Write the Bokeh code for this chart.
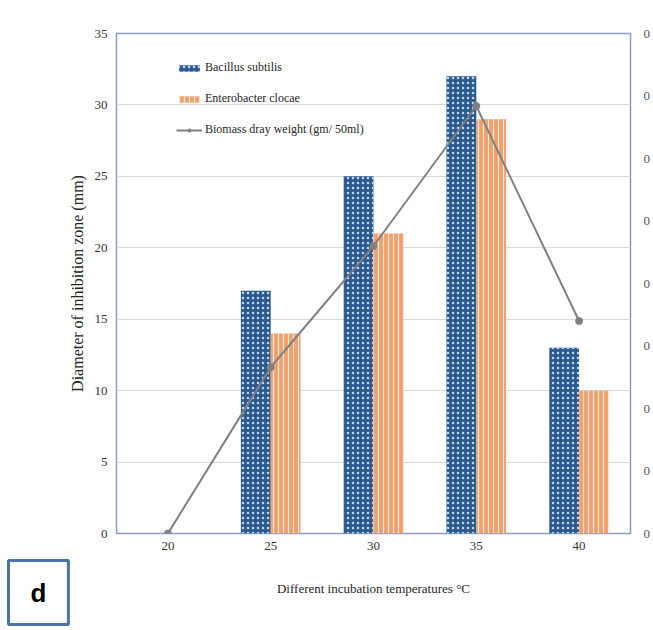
from bokeh.plotting import figure
from bokeh.models import (FactorRange, Range1d, LinearAxis, FixedTicker, Legend,
                          LegendItem, Title, ColumnDataSource)
from bokeh.transform import dodge
from bokeh.embed import file_html
from bokeh.resources import INLINE

# ---- data ----
temps = ["20", "25", "30", "35", "40"]
bacillus = [0, 17, 25, 32, 13]
enterobacter = [0, 14, 21, 29, 10]
biomass = [0.0, 0.133, 0.23, 0.342, 0.17]
left_ticks = [0, 5, 10, 15, 20, 25, 30, 35]
right_ticks = [0, 0.05, 0.1, 0.15, 0.2, 0.25, 0.3, 0.35, 0.4]

SERIF = "Liberation Serif"

src = ColumnDataSource(dict(t=temps, b=bacillus, e=enterobacter, m=biomass))

p = figure(width=653, height=630, x_range=FactorRange(*temps), y_range=Range1d(0, 35),
           output_backend="svg", toolbar_location=None,
           min_border_left=116, min_border_right=21, min_border_top=33, min_border_bottom=97,
           background_fill_color="white", border_fill_color="white")
p.extra_y_ranges = {"bio": Range1d(0, 0.4)}

rb = p.vbar(x=dodge("t", -0.145, range=p.x_range), top="b", width=0.29, source=src,
            fill_color="#2d5a8e", line_color=None,
            hatch_pattern="dot", hatch_color="#c2dbf3", hatch_scale=5, hatch_weight=3)
re = p.vbar(x=dodge("t", 0.145, range=p.x_range), top="e", width=0.29, source=src,
            fill_color="#f0a06c", line_color=None,
            hatch_pattern="vertical_line", hatch_color="#fde8d8", hatch_scale=5, hatch_weight=1.2)
rl = p.line(x="t", y="m", source=src, y_range_name="bio", line_color="#808080", line_width=2)
rs = p.scatter(x="t", y="m", source=src, y_range_name="bio", size=7,
               fill_color="#808080", line_color="#808080")

# axes
p.yaxis.ticker = FixedTicker(ticks=left_ticks)
p.yaxis.axis_label = "Diameter of inhibition zone (mm)"
p.xaxis.axis_label = "Different incubation temperatures °C"

ra = LinearAxis(y_range_name="bio", ticker=FixedTicker(ticks=right_ticks),
                major_label_overrides={t: "0" for t in right_ticks})
p.add_layout(ra, "right")

for ax in [p.xaxis[0], p.yaxis[0], ra]:
    ax.axis_line_color = None
    ax.major_tick_line_color = None
    ax.minor_tick_line_color = None
    ax.major_tick_in = 0
    ax.major_tick_out = 0
    ax.major_label_text_font = SERIF
    ax.major_label_text_font_size = "13px"
    ax.major_label_text_color = "#333333"
    ax.axis_label_text_font = SERIF
    ax.axis_label_text_font_style = "normal"
    ax.axis_label_text_color = "#262626"

p.yaxis[0].major_label_standoff = 9
p.yaxis[0].axis_label_text_font_size = "16px"
p.yaxis[0].axis_label_standoff = 6
p.xaxis[0].major_label_standoff = 8
p.xaxis[0].axis_label_text_font_size = "13px"
p.xaxis[0].axis_label_standoff = 28
ra.major_label_standoff = 13
ra.major_label_text_color = "#555555"

p.xgrid.grid_line_color = None
p.ygrid.grid_line_color = "#d9d9d9"
p.ygrid.grid_line_width = 1
p.outline_line_color = "#8a9cc8"
p.outline_line_width = 1.5

legend = Legend(items=[
    LegendItem(label="Bacillus subtilis", renderers=[rb]),
    LegendItem(label="Enterobacter clocae", renderers=[re]),
    LegendItem(label="Biomass dray weight (gm/ 50ml)", renderers=[rl, rs]),
], location=(60, 396), orientation="vertical",
    label_text_font=SERIF, label_text_font_size="12px", label_text_color="#262626",
    glyph_width=26, glyph_height=8, label_standoff=3, spacing=16,
    padding=0, margin=0, border_line_color=None, background_fill_alpha=0)
p.add_layout(legend, "center")

tag = Title(text="d", align="left", vertical_align="top", offset=-108, standoff=-76,
            text_font="Liberation Sans", text_font_style="bold", text_font_size="26px",
            text_color="black",
            border_line_color="#4a73a8", border_line_width=3,
            background_fill_color="white",
            padding=dict(left=22, right=22, top=17, bottom=17))
p.add_layout(tag, "below")

open("out.html", "w").write(file_html(p, INLINE))
